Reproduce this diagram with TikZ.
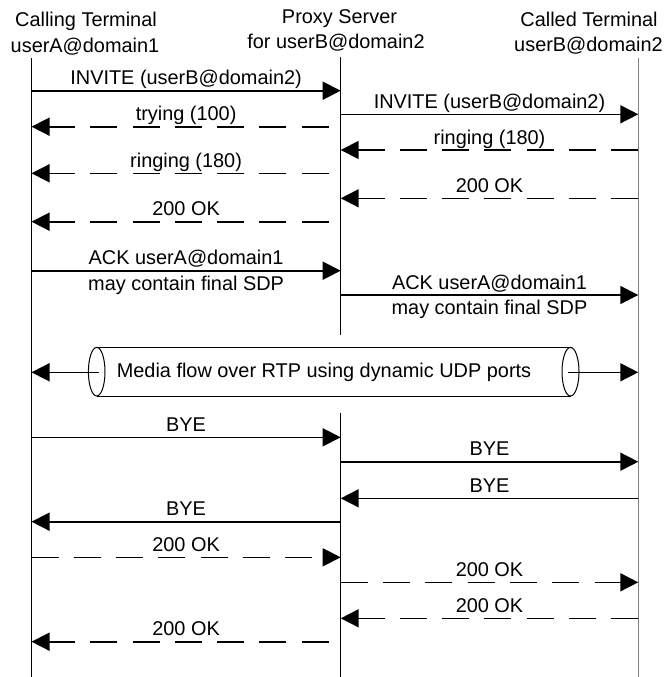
\documentclass[tikz,border=0pt]{standalone}
\usepackage{fontspec}
\setmainfont{Liberation Sans}
\usetikzlibrary{arrows.meta}
\definecolor{lifegray}{RGB}{128,128,128}
\begin{document}
\begin{tikzpicture}[x=1pt,y=-1pt,
  every node/.style={font=\fontsize{19.9}{24}\selectfont, inner sep=0pt},
  lifeline/.style={line width=1pt},
  remote/.style={line width=1.5pt, draw=lifegray},
  msg/.style={line width=1.6pt, -{Triangle[length=18pt,width=18pt]}},
  reply/.style={msg, dash pattern=on 27pt off 15.3pt},
  fromproxy/.style={shorten <=12pt},
  lbl/.style={midway, anchor=base, yshift=6pt},
  lbldown/.style={midway, anchor=base, yshift=-19.3pt},
  tube/.style={line width=1pt},
]
\useasboundingbox (0,0) rectangle (666,677);

% participants
\node[anchor=base] (callT)   at (86,26.7)  {Calling Terminal};
\node[anchor=base] (callA)   at (85,52.5)  {userA@domain1};
\node[anchor=base] (proxyT)  at (339.5,24) {Proxy Server};
\node[anchor=base] (proxyA)  at (336,48.5) {for userB@domain2};
\node[anchor=base] (calledT) at (589,26.5) {Called Terminal};
\node[anchor=base] (calledA) at (588.5,52) {userB@domain2};

% lifelines
\coordinate (L) at (31.5,58);
\coordinate (M) at (340.7,57);
\coordinate (R) at (638.3,58);
\coordinate (Lend) at (31.5,677);
\coordinate (Mend) at (340.7,677);
\coordinate (Rend) at (638.3,677);
\draw[lifeline] (L) -- (Lend);
\draw[lifeline] (M) -- (M |- 0,335);
\draw[lifeline] (M |- 0,413) -- (Mend);
\draw[remote] (R) -- (Rend);

% call setup
\draw[msg]   (L |- 0,90.7)  -- (M |- 0,90.7)  node[lbl] (m1) {INVITE (userB@domain2)};
\draw[msg]   (M |- 0,114.3) -- (R |- 0,114.3) node[lbl] (m2) {INVITE (userB@domain2)};
\draw[reply,fromproxy] (M |- 0,126.7) -- (L |- 0,126.7) node[lbl] (m3) {trying (100)};
\draw[reply] (R |- 0,150)   -- (M |- 0,150)   node[lbl] (m4) {ringing (180)};
\draw[reply,fromproxy] (M |- 0,173.3) -- (L |- 0,173.3) node[lbl] (m5) {ringing (180)};
\draw[reply] (R |- 0,198.3) -- (M |- 0,198.3) node[lbl] (m6) {200 OK};
\draw[reply,fromproxy] (M |- 0,221.7) -- (L |- 0,221.7) node[lbl] (m7) {200 OK};

% acknowledgements
\draw[msg] (L |- 0,270.7) -- (M |- 0,270.7)
  node[lbl] (m8a) {ACK userA@domain1}
  node[lbldown] (m8b) {may contain final SDP};
\draw[msg] (M |- 0,295) -- (R |- 0,295)
  node[lbl] (m9a) {ACK userA@domain1}
  node[lbldown] (m9b) {may contain final SDP};

% media tube
\fill[white] (96.7,347.3) rectangle (570.5,396);
\draw[tube] (96.7,347.3) -- (570.5,347.3) (96.7,396) -- (570.5,396);
\draw[tube] (96.7,371.7) ellipse [x radius=8.3pt, y radius=24.3pt];
\draw[tube] (570.5,371.7) ellipse [x radius=8.5pt, y radius=24.3pt];
\node[anchor=base] (media) at (324,377.7) {Media flow over RTP using dynamic UDP ports};
\coordinate (mediaW) at (99,372.3);
\coordinate (mediaE) at (568,372.3);
\draw[msg] (mediaW) -- (L |- mediaW);
\draw[msg] (mediaE) -- (R |- mediaE);

% teardown
\draw[msg]   (L |- 0,437.3) -- (M |- 0,437.3) node[lbl] (b1) {BYE};
\draw[msg]   (M |- 0,461.7) -- (R |- 0,461.7) node[lbl] (b2) {BYE};
\draw[msg]   (R |- 0,498.3) -- (M |- 0,498.3) node[lbl] (b3) {BYE};
\draw[msg]   (M |- 0,521.7) -- (L |- 0,521.7) node[lbl] (b4) {BYE};
\draw[reply] (L |- 0,557.3) -- (M |- 0,557.3) node[lbl] (k1) {200 OK};
\draw[reply] (M |- 0,582.3) -- (R |- 0,582.3) node[lbl] (k2) {200 OK};
\draw[reply] (R |- 0,618.3) -- (M |- 0,618.3) node[lbl] (k3) {200 OK};
\draw[reply,fromproxy] (M |- 0,641.7) -- (L |- 0,641.7) node[lbl] (k4) {200 OK};
\end{tikzpicture}
\end{document}
